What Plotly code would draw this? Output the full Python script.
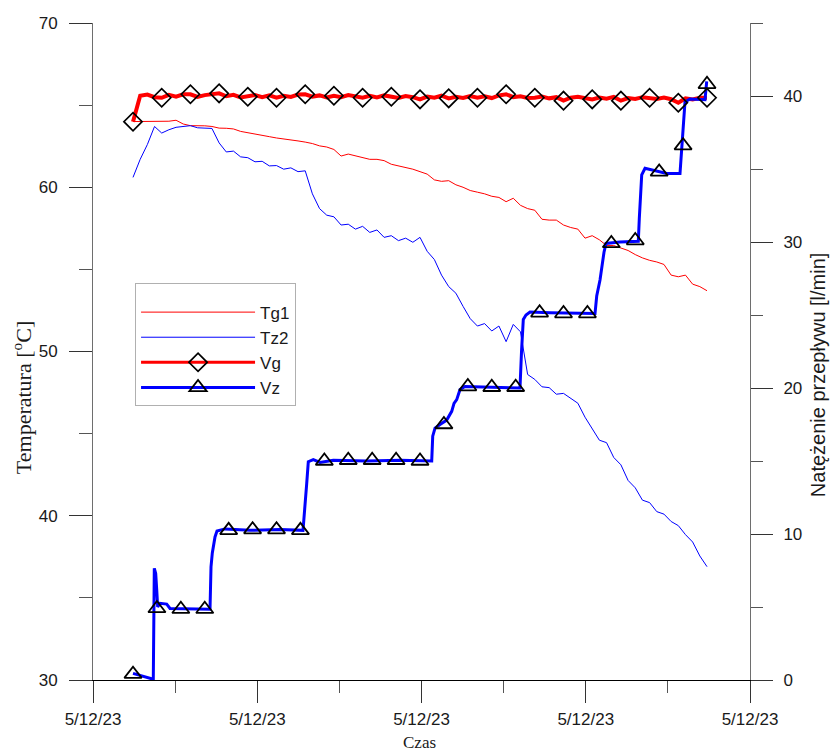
import numpy as np
import plotly.graph_objects as go

# ---------------- data ----------------
# time in minutes from start of record, sampled every 2.5 min
t_grid = np.arange(81) * 2.5

tg1 = [64.00, 64.00, 63.98, 64.00, 64.02, 64.02, 64.08, 63.85, 63.75, 63.76,
       63.74, 63.70, 63.60, 63.59, 63.55, 63.40, 63.33, 63.25, 63.15, 63.08,
       63.00, 62.95, 62.90, 62.82, 62.75, 62.66, 62.52, 62.45, 62.30, 61.90,
       62.02, 61.92, 61.80, 61.70, 61.70, 61.62, 61.40, 61.30, 61.20, 61.10,
       60.95, 60.80, 60.45, 60.36, 60.40, 60.15, 60.00, 59.80, 59.70, 59.60,
       59.45, 59.38, 59.12, 59.33, 58.90, 58.70, 58.60, 58.05, 58.00, 58.00,
       57.70, 57.55, 57.45, 56.90, 57.05, 56.80, 56.45, 56.45, 56.30, 56.15,
       55.90, 55.70, 55.55, 55.45, 55.30, 54.65, 54.55, 54.65, 54.10, 53.95,
       53.70]

tz2 = [60.60, 61.70, 62.60, 63.70, 63.30, 63.50, 63.65, 63.72, 63.75, 63.62,
       63.60, 63.58, 62.70, 62.15, 62.20, 61.85, 61.80, 61.55, 61.58, 61.30,
       61.32, 61.10, 61.18, 60.95, 61.00, 59.60, 58.70, 58.30, 58.20, 57.70,
       57.75, 57.45, 57.62, 57.25, 57.40, 56.95, 57.05, 56.75, 56.90, 56.65,
       56.95, 56.10, 55.60, 54.65, 53.95, 53.55, 52.75, 52.00, 51.55, 51.70,
       51.25, 51.55, 50.60, 51.65, 51.20, 48.60, 48.30, 47.85, 47.80, 47.40,
       47.45, 47.15, 46.85, 46.00, 45.30, 44.60, 44.45, 43.55, 43.10, 42.15,
       41.70, 40.95, 40.80, 40.25, 40.10, 39.65, 39.40, 38.85, 38.40, 37.55,
       36.90]

vg = [38.24, 40.02, 40.10, 39.92, 39.88, 40.08, 39.96, 40.12, 40.12, 39.94,
      40.06, 40.14, 40.18, 39.98, 40.08, 39.90, 39.95, 40.06, 39.92, 40.04,
      39.88, 40.02, 39.94, 40.10, 40.12, 39.96, 40.04, 39.90, 40.02, 39.92,
      40.06, 39.94, 39.88, 40.02, 39.90, 40.04, 39.95, 39.86, 40.00, 39.92,
      39.77, 39.96, 39.88, 40.02, 39.84, 39.94, 39.86, 40.00, 39.88, 39.98,
      39.86, 40.04, 40.12, 39.92, 39.98, 39.86, 39.88, 39.96, 39.84, 39.92,
      39.68, 39.88, 39.94, 39.82, 39.77, 39.90, 39.82, 39.94, 39.68, 39.86,
      39.80, 39.92, 39.88, 39.80, 39.90, 39.78, 39.54, 39.84, 39.76, 39.88,
      39.88]

# Vz step signal (breakpoints)
vz_t = [0.0, 1.85, 4.18, 6.52, 7.07, 7.42, 7.91, 8.26, 8.60, 9.40,
        11.74, 12.89, 20.45, 26.83, 27.18, 27.63, 28.57, 29.27, 32.06, 40.77,
        51.22, 59.23, 60.52, 61.08, 62.82, 65.16, 69.79, 81.43, 93.03, 104.08,
        104.43, 105.23, 106.97, 109.30, 111.05, 111.85, 112.79, 113.94, 115.68, 124.39,
        134.84, 135.37, 135.99, 136.93, 138.33, 145.30, 155.75, 160.98, 161.57, 162.72,
        164.11, 164.81, 169.69, 176.06, 176.41, 177.25, 178.40, 185.96, 190.59, 191.18,
        191.74, 192.33, 194.08, 199.30, 199.90]
vz = [0.45, 0.35, 0.18, 0.05, 0.05, 7.65, 7.30, 6.20, 5.00, 5.25,
      5.20, 4.90, 4.85, 4.85, 7.75, 8.70, 9.80, 10.20, 10.35, 10.25,
      10.30, 10.25, 13.45, 14.95, 15.10, 14.90, 15.05, 15.00, 15.05, 15.00,
      16.70, 17.25, 17.50, 17.80, 18.40, 18.95, 19.20, 19.90, 20.10, 20.05,
      20.00, 22.50, 24.70, 25.00, 25.20, 25.15, 25.10, 25.10, 26.30, 27.40,
      29.30, 29.90, 30.00, 30.05, 31.60, 34.60, 35.05, 34.70, 34.70, 36.30,
      37.50, 39.60, 39.80, 39.75, 41.00]

# triangle markers of Vz (every 200/24 min)
vz_mark_t = np.arange(25) * 200 / 24
vz_mark = [0.40, 4.90, 4.85, 4.85, 10.25, 10.30, 10.30, 10.25, 15.00, 15.05,
           15.05, 15.05, 15.00, 17.50, 20.10, 20.05, 20.05, 25.15, 25.10, 25.10,
           29.90, 30.10, 34.80, 36.60, 40.80]

x_tick_text = ["5/12/23"] * 5
temp_ticks = [30, 40, 50, 60, 70]
flow_ticks = [0, 10, 20, 30, 40]

# ---------------- figure ----------------
X_RANGE = [-13.94, 214.98]
xt = np.linspace(X_RANGE[0], X_RANGE[1], 5)
xminor = (xt[:-1] + xt[1:]) / 2

RED = "#ff0000"
BLUE = "#0000ff"
AX = "#6e6e6e"
TICKFONT = dict(family="Liberation Sans, Arial, sans-serif", size=17, color="#1a1a1a")

fig = go.Figure()

fig.add_trace(go.Scatter(x=t_grid, y=tg1, mode="lines", name="Tg1",
                         line=dict(color=RED, width=1), yaxis="y"))
fig.add_trace(go.Scatter(x=t_grid, y=tz2, mode="lines", name="Tz2",
                         line=dict(color=BLUE, width=1), yaxis="y"))
fig.add_trace(go.Scatter(x=t_grid, y=vg, mode="lines", showlegend=False,
                         line=dict(color=RED, width=4), yaxis="y2"))
fig.add_trace(go.Scatter(x=vz_t, y=vz, mode="lines", showlegend=False,
                         line=dict(color=BLUE, width=3), yaxis="y2"))
fig.add_trace(go.Scatter(x=t_grid[::4], y=vg[::4], mode="markers", showlegend=False,
                         marker=dict(symbol="diamond-open", size=14, color="black",
                                     line=dict(width=1.7, color="black")), yaxis="y2"))
fig.add_trace(go.Scatter(x=vz_mark_t, y=vz_mark, mode="markers", showlegend=False,
                         marker=dict(symbol="triangle-up-open", size=15, color="black",
                                     line=dict(width=1.8, color="black")), yaxis="y2"))
# legend entries for flow series
fig.add_trace(go.Scatter(x=[None], y=[None], mode="lines+markers", name="Vg",
                         line=dict(color=RED, width=3),
                         marker=dict(symbol="diamond-open", size=14, color="black",
                                     line=dict(width=1.7, color="black")), yaxis="y2"))
fig.add_trace(go.Scatter(x=[None], y=[None], mode="lines+markers", name="Vz",
                         line=dict(color=BLUE, width=3),
                         marker=dict(symbol="triangle-up-open", size=15, color="black",
                                     line=dict(width=1.8, color="black")), yaxis="y2"))

fig.update_layout(
    width=833, height=753,
    margin=dict(l=93, r=83, t=23, b=73, pad=0),
    paper_bgcolor="white", plot_bgcolor="white",
    showlegend=True,
    legend=dict(x=0.064, y=0.604, xanchor="left", yanchor="top",
                bgcolor="white", bordercolor="#b0b0b0", borderwidth=1,
                title=dict(text=" ", font=dict(size=8)),
                font=dict(family="Liberation Sans, Arial, sans-serif", size=17, color="#1a1a1a"),
                itemwidth=114, tracegroupgap=0),
    xaxis=dict(range=X_RANGE, tickvals=xt, ticktext=x_tick_text,
               showgrid=False, zeroline=False, showline=True, linecolor="black", linewidth=1,
               ticks="outside", ticklen=22, tickcolor="#333", tickwidth=1,
               ticklabelstandoff=2, tickfont=TICKFONT,
               minor=dict(tickvals=xminor, ticks="outside", ticklen=12, tickcolor="#555")),
    yaxis=dict(range=[30, 70], tickvals=temp_ticks,
               showgrid=False, zeroline=False, showline=True, linecolor=AX, linewidth=1,
               ticks="outside", ticklen=23, tickcolor="#333", ticklabelstandoff=8,
               tickfont=TICKFONT,
               minor=dict(tickvals=[35, 45, 55, 65], ticks="outside", ticklen=13, tickcolor="#555")),
    yaxis2=dict(range=[0, 45], tickvals=flow_ticks, overlaying="y", side="right",
                showgrid=False, zeroline=False, showline=True, linecolor=AX, linewidth=1,
                ticks="outside", ticklen=22, tickcolor="#333", ticklabelstandoff=7,
                tickfont=TICKFONT,
                minor=dict(tickvals=[5, 15, 25, 35, 45], ticks="outside", ticklen=12, tickcolor="#555")),
    annotations=[
        dict(text="Temperatura [<sup>o</sup>C]", xref="paper", yref="paper", x=0, y=0.429,
             xshift=-71, textangle=-90, showarrow=False, xanchor="center", yanchor="middle",
             font=dict(family="Liberation Serif, Times New Roman, serif", size=22, color="#1a1a1a")),
        dict(text="Natężenie przepływu [l/min]", xref="paper", yref="paper", x=1, y=0.464,
             xshift=68, textangle=-90, showarrow=False, xanchor="center", yanchor="middle",
             font=dict(family="Liberation Serif" if False else "Liberation Sans, Arial, sans-serif",
                       size=20, color="#1a1a1a")),
        dict(text="Czas", xref="paper", yref="paper", x=0.4977, y=0, yshift=-62,
             showarrow=False, xanchor="center", yanchor="middle", borderpad=0,
             font=dict(family="Liberation Serif, Times New Roman, serif", size=17, color="#1a1a1a")),
    ],
)

fig.write_html("out.html")
